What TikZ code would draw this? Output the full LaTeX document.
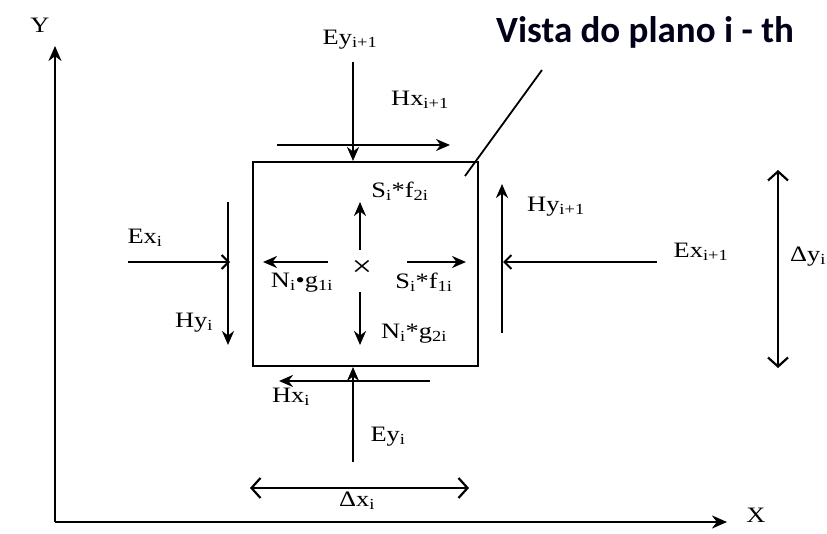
\documentclass[tikz,border=0pt]{standalone}
\usepackage{fontspec}
\setmainfont{Liberation Serif}[FakeStretch=1.2]
\newfontfamily\titlefont{Carlito}
\usetikzlibrary{arrows.meta}
\begin{document}
\begin{tikzpicture}[x=1pt,y=-1pt,
  lbl/.style={inner sep=0pt,font=\fontsize{22}{24}\selectfont},
  vec/.style={line width=2.4pt,-{Stealth[length=14pt,width=12pt]}},
  vecb/.style={line width=2.4pt,-{Straight Barb[length=7pt,width=14pt,line width=2pt]}},
  dimarr/.style={line width=2.4pt,{Straight Barb[length=9pt,width=20pt,line width=2.2pt]}-{Straight Barb[length=9pt,width=20pt,line width=2.2pt]}},
  axis/.style={line width=2.6pt,-{Stealth[length=15pt,width=13pt]}},
  thin/.style={line width=1.8pt}]
\useasboundingbox (0,0) rectangle (827,534);
\fill[white] (0,0) rectangle (827,534);

% axes
\coordinate (O) at (55,522);
\coordinate (Ytip) at (55,46);
\coordinate (Xtip) at (727,522);
\draw[axis] (O) -- (Ytip);
\draw[axis] (O) -- (Xtip);
\node[lbl] (Ylbl) at (40,25) {Y};
\node[lbl] (Xlbl) at (756,515) {X};

% cell
\node[draw,line width=2.2pt,minimum width=225pt,minimum height=204pt,inner sep=0pt] (box) at (365.5,264) {};

% title and leader
\node[inner sep=0pt,font=\titlefont\bfseries\fontsize{37}{40}\selectfont,text=black!90!blue] (title) at (645,32) {Vista do plano i - th};
\coordinate (leadA) at (465,176);
\coordinate (leadB) at (542,70);
\draw[thin] (leadA) -- (leadB);

% top
\coordinate (eyt1) at (353,62); \coordinate (eyt2) at (353,161);
\draw[vec] (eyt1) -- (eyt2);
\node[lbl] (eyt) at (350,40) {Ey\textsubscript{i+1}};
\coordinate (hxt1) at (277,145); \coordinate (hxt2) at (450,145);
\draw[vec] (hxt1) -- (hxt2);
\node[lbl] (hxt) at (420,100) {Hx\textsubscript{i+1}};

% left
\coordinate (exl1) at (128,262); \coordinate (exl2) at (230,262);
\draw[vecb] (exl1) -- (exl2);
\node[lbl] (exl) at (145,238) {Ex\textsubscript{i}};
\coordinate (hyl1) at (228,202); \coordinate (hyl2) at (228,345);
\draw[vec] (hyl1) -- (hyl2);
\node[lbl] (hyl) at (194,323) {Hy\textsubscript{i}};

% centre
\node[inner sep=0pt,font=\fontsize{30}{30}\selectfont] (cross) at (362,268) {×};
\coordinate (up1) at (360,250); \coordinate (up2) at (360,202);
\draw[vec] (up1) -- (up2);
\node[lbl] (sf2) at (400,191) {S\textsubscript{i}*f\textsubscript{2i}};
\coordinate (lf1) at (328,262); \coordinate (lf2) at (263,262);
\draw[vec] (lf1) -- (lf2);
\node[lbl] (ng1) at (302,283) {N\textsubscript{i}•g\textsubscript{1i}};
\coordinate (rt1) at (407,262); \coordinate (rt2) at (466,262);
\draw[vec] (rt1) -- (rt2);
\node[lbl] (sf1) at (424,282) {S\textsubscript{i}*f\textsubscript{1i}};
\coordinate (dn1) at (360,292); \coordinate (dn2) at (360,345);
\draw[vec] (dn1) -- (dn2);
\node[lbl] (ng2) at (414,334) {N\textsubscript{i}*g\textsubscript{2i}};

% right
\coordinate (hyr1) at (502,333); \coordinate (hyr2) at (502,184);
\draw[vec] (hyr1) -- (hyr2);
\node[lbl] (hyr) at (556,207) {Hy\textsubscript{i+1}};
\coordinate (exr1) at (657,262); \coordinate (exr2) at (503,262);
\draw[vecb] (exr1) -- (exr2);
\node[lbl] (exr) at (701,252) {Ex\textsubscript{i+1}};
\coordinate (dy1) at (778,170); \coordinate (dy2) at (778,368);
\draw[dimarr] (dy1) -- (dy2);
\node[lbl] (dyl) at (808,257) {Δy\textsubscript{i}};

% bottom
\coordinate (hxb1) at (430,381); \coordinate (hxb2) at (279,381);
\draw[vec] (hxb1) -- (hxb2);
\node[lbl] (hxb) at (291,397) {Hx\textsubscript{i}};
\coordinate (eyb1) at (353,462); \coordinate (eyb2) at (353,367);
\draw[vec] (eyb1) -- (eyb2);
\node[lbl] (eyb) at (388,437) {Ey\textsubscript{i}};
\coordinate (dx1) at (250,488); \coordinate (dx2) at (469,488);
\draw[dimarr] (dx1) -- (dx2);
\node[lbl] (dxl) at (357,501) {Δx\textsubscript{i}};
\end{tikzpicture}
\end{document}
